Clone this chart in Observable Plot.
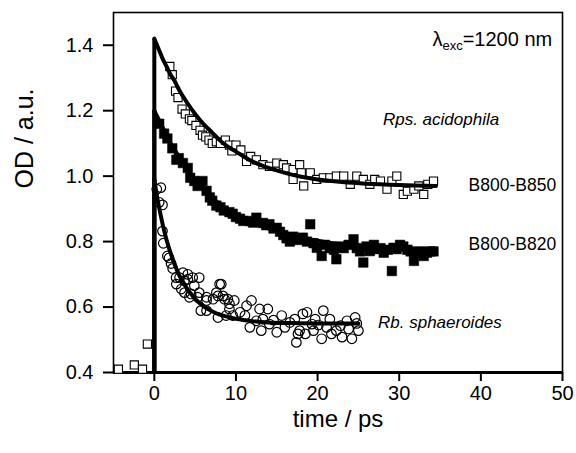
<!DOCTYPE html>
<html><head><meta charset="utf-8">
<script src="https://cdn.jsdelivr.net/npm/d3@7"></script>
<script src="https://cdn.jsdelivr.net/npm/@observablehq/plot@0.6"></script>
<style>body{margin:0;background:#fff} svg{display:block}</style>
</head><body><div id="chart"></div>
<script>
// ---- data ----
const xTicks = [0, 10, 20, 30, 40, 50];
const yTicks = [0.4, 0.6, 0.8, 1.0, 1.2, 1.4];
const baseline = 0.4;

// Rps. acidophila B800-B850 (open squares) [time ps, OD]
const acidophila850 = [[-4.4,0.41],[-2.45,0.423],[-1.45,0.41],[-0.85,0.487],
[1.9,1.335],[2.2,1.31],[2.6,1.26],[2.9,1.24],[3.4,1.205],[3.8,1.19],[4.3,1.175],[4.6,1.17],[5.1,1.155],[5.6,1.14],[5.9,1.125],[6.3,1.12],[6.7,1.11],[7.1,1.10],[7.6,1.105],[8.1,1.10],[8.7,1.11],[9.2,1.095],[9.5,1.077],[10.0,1.095],[10.6,1.08],[11.3,1.045],[11.8,1.06],[12.5,1.05],[13.3,1.035],[14.1,1.03],[15.0,1.04],[15.8,1.035],[16.2,1.025],[17.0,1.02],[17.0,0.99],[17.8,1.035],[18.0,1.01],[18.3,0.97],[19.1,1.01],[19.9,0.99],[20.7,0.995],[21.5,0.995],[22.3,1.0],[23.2,1.0],[24.0,0.975],[24.8,1.0],[25.6,0.99],[26.4,0.975],[27.0,0.99],[27.7,0.985],[28.5,0.96],[29.1,0.985],[29.7,1.0],[30.5,0.944],[31.0,0.954],[31.8,0.96],[32.4,0.97],[33.0,0.944],[33.5,0.975],[34.2,0.985]];

// B800-B820 (filled squares)
const b820 = [[0.6,1.16],[1.2,1.13],[1.6,1.115],[2.2,1.085],[2.7,1.05],[3.0,1.055],[3.5,1.04],[4.1,1.025],[4.4,0.995],[4.9,0.985],[5.3,0.97],[5.6,0.975],[5.9,0.985],[6.4,0.955],[6.8,0.935],[7.1,0.925],[7.6,0.91],[8.1,0.905],[8.5,0.895],[9.2,0.89],[9.6,0.885],[10.0,0.875],[10.5,0.87],[10.9,0.863],[11.7,0.863],[12.1,0.858],[12.5,0.873],[13.3,0.857],[13.7,0.85],[14.1,0.853],[14.6,0.84],[15.0,0.842],[15.4,0.83],[15.8,0.82],[16.2,0.81],[16.6,0.80],[17.0,0.815],[17.6,0.805],[18.2,0.812],[18.7,0.80],[19.1,0.853],[19.5,0.795],[19.9,0.781],[20.5,0.756],[20.9,0.79],[21.5,0.78],[22.0,0.775],[22.3,0.746],[22.7,0.785],[23.2,0.78],[23.8,0.79],[24.4,0.807],[24.8,0.78],[25.2,0.77],[25.6,0.736],[26.0,0.785],[26.4,0.771],[26.9,0.79],[27.3,0.777],[27.7,0.78],[28.1,0.766],[28.6,0.775],[29.1,0.71],[29.3,0.781],[29.7,0.777],[30.1,0.79],[30.5,0.785],[31.0,0.775],[31.4,0.77],[31.8,0.741],[32.2,0.765],[32.6,0.77],[33.0,0.756],[33.4,0.766],[33.8,0.77],[34.2,0.77]];

// Rb. sphaeroides (open circles)
const sphaeroides = [[0.3,0.96],[0.6,0.92],[0.8,0.965],[1.0,0.912],[1.0,0.832],[1.1,0.795],[1.6,0.756],[1.8,0.75],[2.05,0.733],[2.25,0.718],[2.67,0.69],[2.7,0.67],[3.1,0.69],[3.3,0.655],[3.5,0.705],[3.7,0.644],[3.7,0.68],[4.1,0.70],[4.1,0.685],[4.3,0.63],[4.5,0.64],[4.7,0.69],[4.9,0.665],[5.3,0.63],[5.5,0.69],[5.5,0.644],[5.7,0.589],[6.4,0.63],[6.4,0.589],[6.4,0.62],[7.2,0.624],[7.6,0.644],[7.8,0.634],[7.8,0.568],[8.0,0.67],[8.2,0.67],[8.4,0.634],[8.6,0.624],[8.8,0.574],[9.0,0.624],[9.2,0.594],[9.2,0.61],[9.6,0.574],[9.8,0.62],[10.5,0.584],[11.1,0.574],[11.3,0.604],[11.7,0.538],[11.9,0.62],[12.5,0.558],[12.9,0.594],[13.1,0.528],[13.3,0.563],[13.9,0.594],[14.1,0.548],[14.6,0.56],[15.0,0.523],[15.6,0.574],[16.0,0.538],[16.6,0.553],[17.2,0.563],[17.4,0.492],[17.6,0.518],[17.8,0.528],[18.2,0.579],[18.5,0.518],[18.7,0.584],[19.3,0.548],[19.5,0.528],[19.7,0.563],[20.1,0.545],[20.5,0.503],[20.7,0.589],[21.1,0.538],[21.5,0.563],[21.7,0.518],[22.3,0.528],[22.8,0.543],[23.0,0.508],[23.6,0.558],[23.8,0.533],[24.2,0.503],[24.6,0.568],[25.0,0.528],[24.8,0.55]];

// fitted curves
const fit850 = [[0,1.42],[0.5,1.39],[1,1.36],[1.5,1.335],[2,1.31],[2.5,1.29],[3,1.265],[4,1.225],[5,1.19],[6,1.16],[7,1.135],[8,1.11],[9,1.09],[10,1.075],[12,1.045],[14,1.025],[16,1.01],[18,0.998],[20,0.99],[23,0.982],[26,0.977],[30,0.973],[34.5,0.97]];
const fit820 = [[0,1.2],[0.5,1.175],[1,1.15],[1.5,1.125],[2,1.10],[2.5,1.08],[3,1.06],[4,1.02],[5,0.99],[6,0.96],[7,0.935],[8,0.915],[9,0.897],[10,0.882],[12,0.858],[14,0.84],[16,0.825],[18,0.812],[20,0.803],[23,0.792],[26,0.785],[30,0.778],[34.5,0.773]];
const fitSph = [[0,0.99],[0.25,0.95],[0.5,0.915],[1,0.855],[1.5,0.805],[2,0.765],[2.5,0.73],[3,0.70],[3.5,0.677],[4,0.657],[5,0.625],[6,0.603],[7,0.588],[8,0.577],[9,0.57],[10,0.564],[12,0.557],[14,0.553],[17,0.551],[20,0.55],[25,0.55]];

// annotations [text, time, OD]
const italicLabels = [["Rps. acidophila", 28.0, 1.173], ["Rb. sphaeroides", 27.4, 0.552]];
const plainLabels = [["B800-B850", 38.5, 0.972], ["B800-B820", 38.5, 0.79]];
const excLabel = {lambda: "λ", sub: "exc", rest: "=1200 nm", t: 48.8, v: 1.41};

const font = "'Liberation Sans', Arial, Helvetica, sans-serif";
const X = d => d[0], Y = d => d[1];

const chart = Plot.plot({
  width: 576, height: 453,
  marginLeft: 113, marginRight: 14, marginTop: 12, marginBottom: 81,
  style: {fontFamily: font, background: "white", color: "black"},
  x: {domain: [-5, 50]},
  y: {domain: [0.4, 1.5]},
  marks: [
    Plot.axisX({ticks: xTicks, tickSize: 9, tickPadding: 4, fontSize: 20, strokeWidth: 2, label: null}),
    Plot.axisY({ticks: yTicks, tickSize: 10, tickPadding: 10, fontSize: 20, strokeWidth: 2, tickFormat: d3.format(".1f"), label: null}),
    Plot.frame({stroke: "black", strokeWidth: 1.6}),
    Plot.ruleY([baseline], {stroke: "black", strokeWidth: 3}),
    Plot.dot(acidophila850, {x: X, y: Y, symbol: "square", r: 4.6, fill: "white", stroke: "black", strokeWidth: 1.1}),
    Plot.dot(b820, {x: X, y: Y, symbol: "square", r: 5.4, fill: "black", stroke: "black", strokeWidth: 0.5}),
    Plot.dot(sphaeroides, {x: X, y: Y, r: 4.8, fill: "none", stroke: "black", strokeWidth: 1.2}),
    Plot.link([fit850[0], fit820[0], fitSph[0]], {x1: X, x2: X, y1: baseline, y2: Y, stroke: "black", strokeWidth: 4}),
    Plot.line(fit850, {x: X, y: Y, stroke: "black", strokeWidth: 4, curve: "catmull-rom"}),
    Plot.line(fit820, {x: X, y: Y, stroke: "black", strokeWidth: 4, curve: "catmull-rom"}),
    Plot.line(fitSph, {x: X, y: Y, stroke: "black", strokeWidth: 4, curve: "catmull-rom"}),
    Plot.text(italicLabels, {x: d => d[1], y: d => d[2], text: d => d[0], textAnchor: "start", fontSize: 17, fontStyle: "italic", fill: "black"}),
    Plot.text(plainLabels, {x: d => d[1], y: d => d[2], text: d => d[0], textAnchor: "start", fontSize: 17.5, fill: "black"}),
    Plot.text(["OD / a.u."], {frameAnchor: "left", dx: -89, dy: -4, rotate: -90, fontSize: 25, fill: "black"}),
    Plot.text(["time / ps"], {frameAnchor: "bottom", dy: 54, fontSize: 24, fill: "black"})
  ]
});

const svg = d3.select(chart);
const xs = chart.scale("x"), ys = chart.scale("y");
const t = svg.append("text")
  .attr("x", xs.apply(excLabel.t)).attr("y", ys.apply(excLabel.v))
  .attr("text-anchor", "end").attr("dominant-baseline", "middle")
  .attr("font-family", font).attr("font-size", 20).attr("fill", "black");
t.append("tspan").text(excLabel.lambda);
t.append("tspan").attr("font-size", 13).attr("dy", 6).text(excLabel.sub);
t.append("tspan").attr("dy", -6).text(excLabel.rest);

document.getElementById("chart").append(chart);
</script>
</body></html>
